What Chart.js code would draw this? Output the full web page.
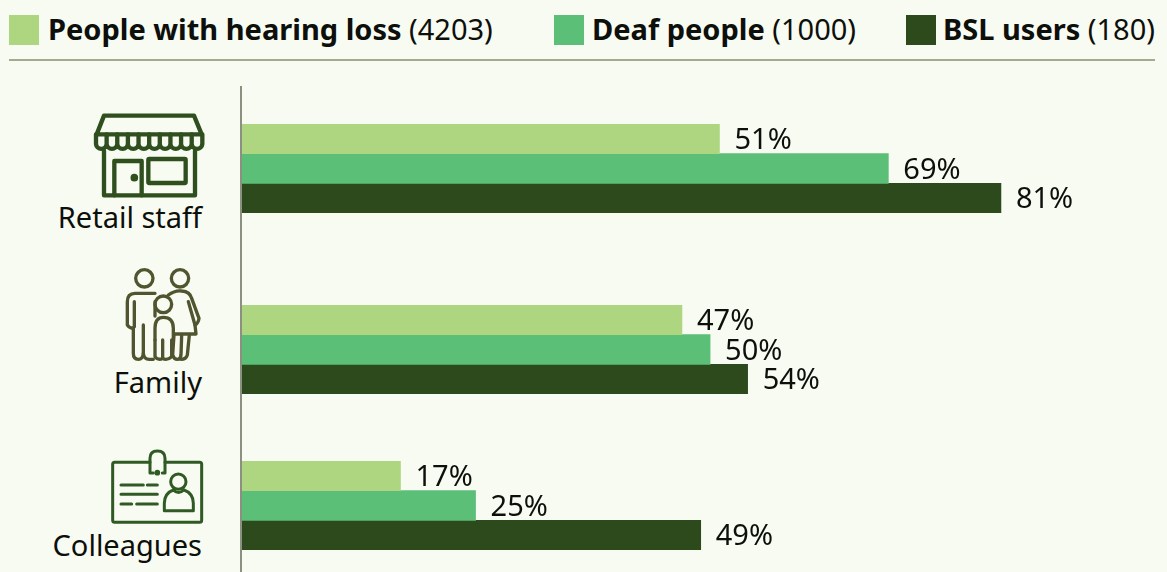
<!DOCTYPE html>
<html>
<head>
<meta charset="utf-8">
<title>Communication by group</title>
<script src="https://cdn.jsdelivr.net/npm/chart.js@4"></script>
<style>
    html, body { margin: 0; padding: 0; background: #f8fbf1; overflow: hidden; }
    body { position: relative; width: 1167px; height: 572px; font-family: "Noto Sans", sans-serif; color: #0d0f0b; }
    .swatch { position: absolute; top: 15px; width: 30px; height: 30px; }
    .legend-text { position: absolute; top: 10px; font-size: 29px; line-height: 37px; white-space: nowrap; }
    .legend-text b { font-weight: 700; }
    .rule { position: absolute; left: 9px; top: 59px; width: 1146px; height: 2px; background: #a2aa90; }
    .axis { position: absolute; left: 240px; top: 86px; width: 2px; height: 486px; background: #8b9080; z-index: 2; }
    .category { position: absolute; right: 965px; font-size: 29px; line-height: 37px; white-space: nowrap; }
    canvas { position: absolute; left: 241px; }
    svg { position: absolute; fill: none; stroke-linecap: round; stroke-linejoin: round; }
</style>
</head>
<body>
<div class="swatch" style="left:9px;background:#aed681"></div>
<div class="legend-text" style="left:48px"><b>People with hearing loss</b> (4203)</div>
<div class="swatch" style="left:554px;background:#5bbf78"></div>
<div class="legend-text" style="left:592px"><b>Deaf people</b> (1000)</div>
<div class="swatch" style="left:906px;background:#2c4a1c"></div>
<div class="legend-text" style="left:943px"><b>BSL users</b> (180)</div>
<div class="rule"></div>
<div class="axis"></div>

<!-- shop -->
<svg style="left:80px;top:100px" width="170" height="130" viewBox="0 0 510 390" stroke="#2f4f1f" stroke-width="13">
    <path d="M72 47H342L365 103H50Z"/>
    <path id="awning" d=""/>
    <path d="M72 152V286H345V152"/>
    <path d="M103 286V183H185V286"/>
    <rect x="205" y="177" width="112" height="72" rx="3"/>
    <circle cx="163" cy="233" r="5" fill="#2f4f1f"/>
</svg>
<!-- family -->
<svg style="left:100px;top:260px" width="150" height="140" viewBox="0 0 450 420" stroke="#50552f" stroke-width="10">
    <circle cx="133" cy="55" r="26"/>
    <circle cx="240" cy="55" r="26"/>
    <circle cx="190" cy="133" r="25"/>
    <path d="M103 125V200Q92 210 82 195V125Q82 100 105 100H165"/>
    <path d="M130 195V280Q128 298 115 298Q100 298 100 280V205"/>
    <path d="M130 280Q132 298 148 298H160"/>
    <path d="M165 125V168"/>
    <path d="M205 105Q225 90 245 93Q270 95 275 115L297 175Q295 190 285 195L265 125"/>
    <path d="M285 195L288 222H225"/>
    <path d="M222 225L218 285Q222 298 232 298Q242 298 243 285L245 225"/>
    <path d="M268 225L262 285Q258 298 243 298"/>
    <path d="M165 240V205Q165 172 190 172Q220 172 220 205V240"/>
    <path d="M165 240V290Q175 303 188 295V240"/>
    <path d="M188 295Q200 303 215 290V240"/>
</svg>
<!-- staff badge -->
<svg style="left:40px;top:440px" width="210" height="132" viewBox="0 0 630 396" stroke="#2f5a24" stroke-width="9">
    <path d="M330 67H224Q218 67 218 73V241Q218 247 224 247H479Q485 247 485 241V73Q485 67 479 67H375"/>
    <path d="M340 99H330V55Q330 33 352 33Q375 33 375 55V99H367"/>
    <circle cx="352" cy="98" r="4" fill="#2f5a24"/>
    <path d="M243 135H310M322 135H352M243 163H352M243 192H275M290 192H352"/>
    <circle cx="415" cy="125" r="23"/>
    <path d="M373 212V190Q373 160 400 150Q415 165 432 150Q460 160 460 190V212Z"/>
</svg>

<div class="category" style="top:198px">Retail staff</div>
<div class="category" style="top:363px">Family</div>
<div class="category" style="top:526px">Colleagues</div>

<canvas id="chartRetail" width="926" height="92" style="top:124px"></canvas>
<canvas id="chartFamily" width="926" height="92" style="top:305px"></canvas>
<canvas id="chartColleagues" width="926" height="92" style="top:461px"></canvas>

<script>
const categories = ["Retail staff", "Family", "Colleagues"];
const seriesNames = ["People with hearing loss", "Deaf people", "BSL users"];
const hearingLoss = [51, 47, 17];
const deafPeople = [69, 50, 25];
const bslUsers = [81, 54, 49];
const seriesColors = ["#aed681", "#5bbf78", "#2c4a1c"];
const canvasIds = ["chartRetail", "chartFamily", "chartColleagues"];
const AXIS_MAX = 98.7; // percent at the right edge of the canvas

// scalloped edge of the shop awning
let awning = "M48 103V132";
for (let i = 0; i < 10; i++) {
    const x = 48 + i * 31.9;
    awning += "M" + x + " 132a16 16 0 0 0 31.9 0M" + (x + 31.9) + " 103V132";
}
document.getElementById("awning").setAttribute("d", awning);

// percent labels just past the end of each bar
const valueLabels = {
    id: "valueLabels",
    afterDatasetsDraw(chart) {
        const ctx = chart.ctx;
        ctx.save();
        ctx.font = '29px "Noto Sans"';
        ctx.fillStyle = "#0d0f0b";
        ctx.textBaseline = "middle";
        chart.data.datasets.forEach((ds, i) => {
            const bar = chart.getDatasetMeta(i).data[0];
            ctx.fillText(ds.data[0] + "%", bar.x + 15, bar.y + 2);
        });
        ctx.restore();
    }
};

categories.forEach((category, i) => {
    const values = [hearingLoss[i], deafPeople[i], bslUsers[i]];
    new Chart(document.getElementById(canvasIds[i]), {
        type: "bar",
        data: {
            labels: [category],
            datasets: seriesNames.map((name, s) => ({
                label: name,
                data: [values[s]],
                backgroundColor: seriesColors[s],
                categoryPercentage: 1,
                barPercentage: 1
            }))
        },
        options: {
            indexAxis: "y",
            responsive: false,
            animation: false,
            // bottom padding leaves room for the last label
            layout: { padding: { bottom: 3 } },
            plugins: { legend: { display: false }, tooltip: { enabled: false } },
            scales: {
                x: { display: false, min: 0, max: AXIS_MAX },
                y: { display: false }
            }
        },
        plugins: [valueLabels]
    });
});
</script>
</body>
</html>
